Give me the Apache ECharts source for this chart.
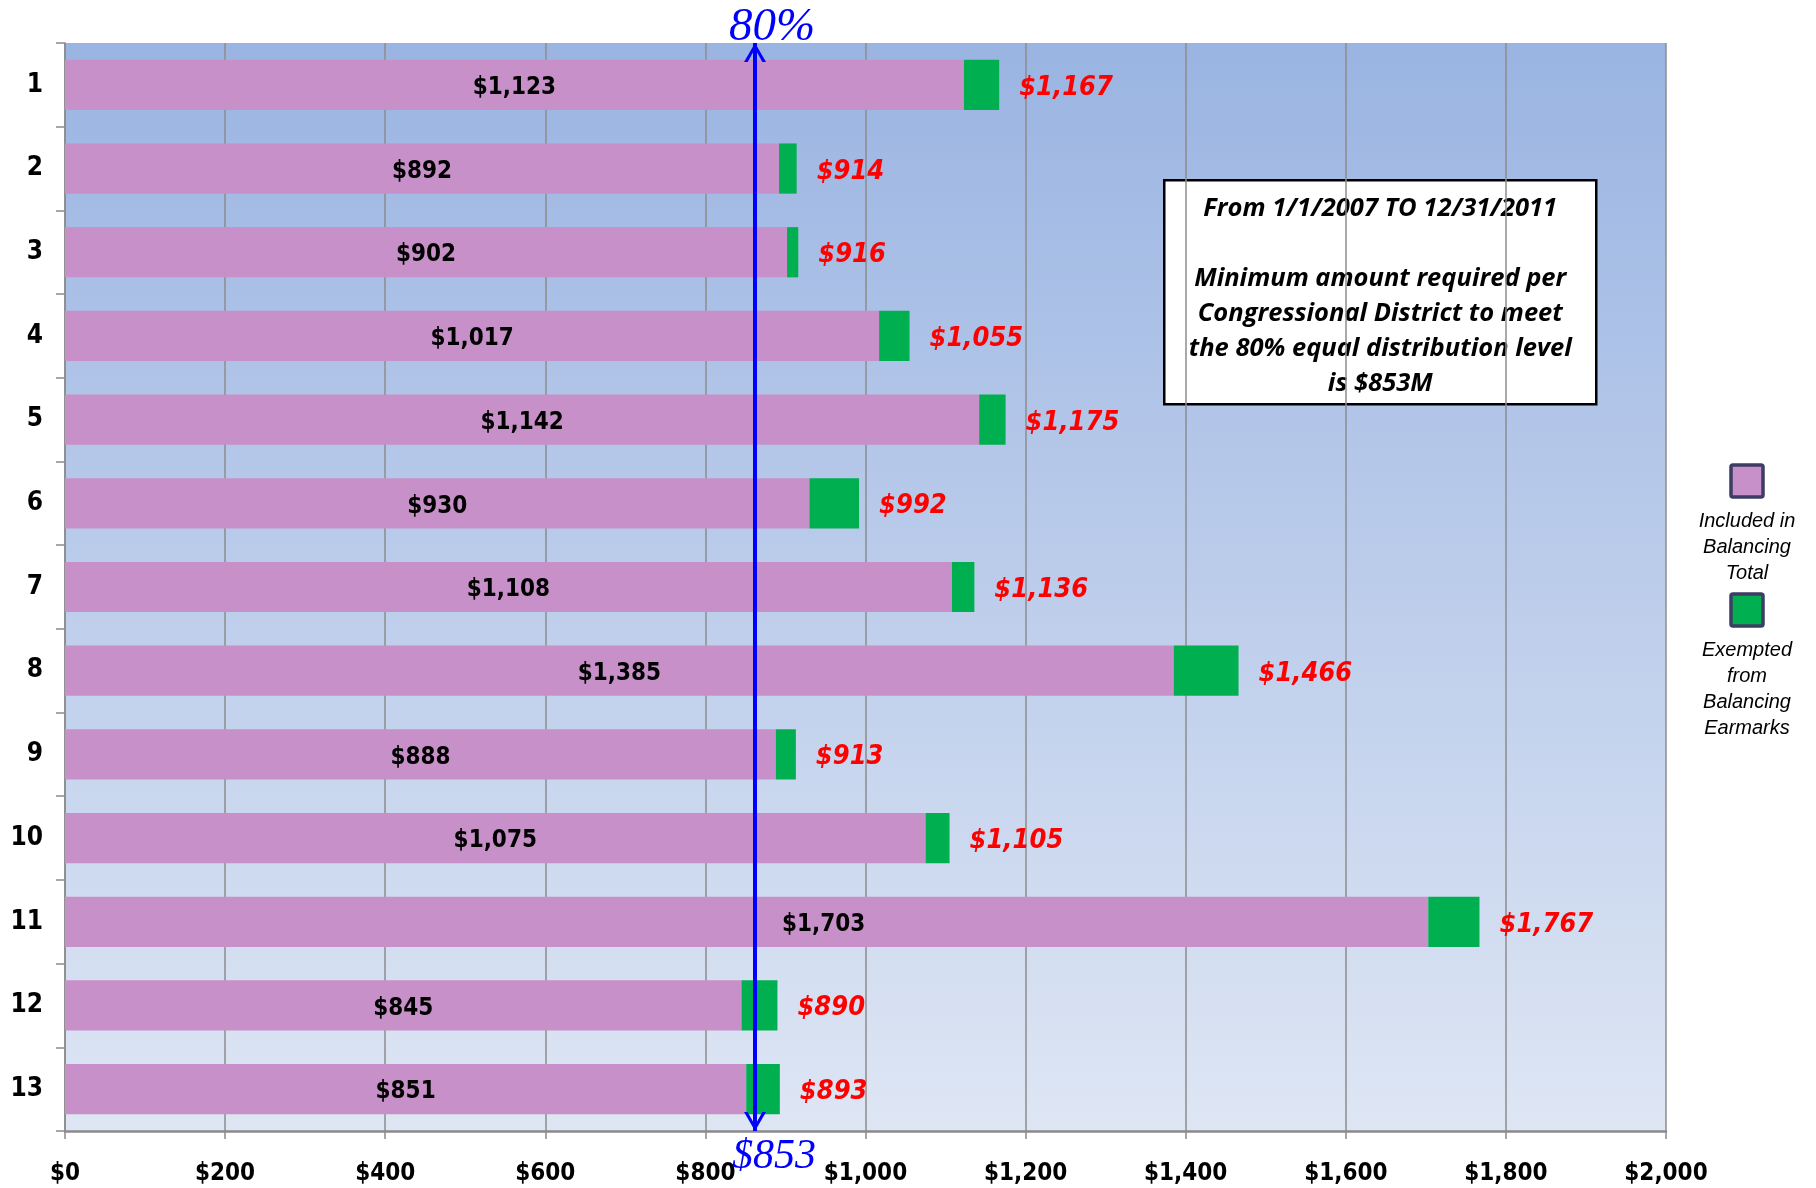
<!DOCTYPE html>
<html>
<head>
<meta charset="utf-8">
<script src="https://cdn.jsdelivr.net/npm/echarts@6/dist/echarts.min.js"></script>
<style>
	html, body { margin: 0; padding: 0; background: #fff; }
	#chart { width: 1816px; height: 1188px; }
</style>
</head>
<body>
<div id="chart"></div>
<script>
	// districts, top to bottom
	var districts = ['1', '2', '3', '4', '5', '6', '7', '8', '9', '10', '11', '12', '13'];
	// included in balancing total ($M)
	var included = [1123, 892, 902, 1017, 1142, 930, 1108, 1385, 888, 1075, 1703, 845, 851];
	// exempted from balancing earmarks ($M)
	var exempted = [44, 22, 14, 38, 33, 62, 28, 81, 25, 30, 64, 45, 42];
	// totals printed at the end of each bar
	var totals = [1167, 914, 916, 1055, 1175, 992, 1136, 1466, 913, 1105, 1767, 890, 893];
	// x axis ticks
	var xMin = 0, xMax = 2000, xStep = 200;
	// 80% level
	var levelLabel = '$853';
	var levelPos = 862;

	var narrow = '"Liberation Sans Narrow", "Arial Narrow", "DejaVu Sans Condensed", sans-serif';
	var money = function (v) { return '$' + Number(v).toLocaleString('en-US'); };
	// open arrow head, tip sits at the symbol centre (speck above widens the box)
	var chevron = 'path://M5.95,-12 L6.05,-12 L6,-11.95 Z M0,12 L6,0 L12,12 L10,12 L6,3.6 L2,12 Z';

	var myChart = echarts.init(document.getElementById('chart'));

	var includedData = included.map(function (v, i) {
		// district 11 label sits further right in the original
		if (i === 10) return { value: v, label: { offset: [77, 3] } };
		return v;
	});

	var option = {
		animation: false,
		grid: {
			left: 65, right: 150, top: 43, bottom: 57,
			show: true,
			borderWidth: 0,
			backgroundColor: {
				type: 'linear', x: 0, y: 0, x2: 0, y2: 1,
				colorStops: [
					{ offset: 0, color: '#9AB4E2' },
					{ offset: 1, color: '#DEE6F4' }
				]
			}
		},
		xAxis: {
			type: 'value',
			min: xMin, max: xMax, interval: xStep,
			axisLine: { show: true, lineStyle: { color: '#8A8A8A', width: 2.5 } },
			axisTick: { show: true, length: 8, lineStyle: { color: '#8A8A8A', width: 1.5 } },
			splitLine: { show: true, lineStyle: { color: '#8C8C8C', width: 1.5 } },
			axisLabel: {
				formatter: money,
				color: '#000', fontFamily: narrow, fontWeight: 'bold', fontSize: 24,
				margin: 31
			}
		},
		yAxis: {
			type: 'category',
			inverse: true,
			data: districts,
			axisLine: { show: true, lineStyle: { color: '#8A8A8A', width: 1.5 } },
			axisTick: { show: true, length: 9, lineStyle: { color: '#8A8A8A', width: 1.5 } },
			axisLabel: {
				color: '#000', fontFamily: narrow, fontWeight: 'bold', fontSize: 26,
				margin: 22, padding: [5, 0, 0, 0]
			}
		},
		series: [
			{
				name: 'Included in Balancing Total',
				type: 'bar',
				stack: 'total',
				barCategoryGap: '40%',
				itemStyle: { color: '#C890C8' },
				label: {
					show: true, position: 'inside',
					formatter: function (p) { return money(p.value); },
					color: '#000', fontFamily: narrow, fontWeight: 'bold', fontSize: 24,
					offset: [0, 3]
				},
				data: includedData,
				markLine: {
					silent: true,
					symbol: [chevron, chevron],
					symbolSize: [22, 38],
					lineStyle: { color: '#0000FF', width: 4, type: 'solid' },
					data: [
						{
							xAxis: levelPos,
							label: {
								show: true, position: 'start', formatter: '80%',
								color: '#0000FF', fontFamily: '"Liberation Serif", serif',
								fontStyle: 'italic', fontSize: 47, distance: 0, offset: [17, 8]
							}
						},
						{
							xAxis: levelPos,
							lineStyle: { color: 'rgba(0,0,0,0)' },
							label: {
								show: true, position: 'end', formatter: levelLabel,
								color: '#0000FF', fontFamily: '"Liberation Serif", serif',
								fontStyle: 'italic', fontSize: 42, distance: 0, offset: [19, 5]
							}
						}
					]
				}
			},
			{
				name: 'Exempted from Balancing Earmarks',
				type: 'bar',
				stack: 'total',
				itemStyle: { color: '#00B050' },
				label: {
					show: true, position: 'right', distance: 20,
					formatter: function (p) { return money(totals[p.dataIndex]); },
					color: '#FF0000', fontFamily: narrow, fontWeight: 'bold',
					fontStyle: 'italic', fontSize: 27, offset: [0, 3]
				},
				data: exempted
			}
		],
		graphic: [
			{
				type: 'group', left: 1163, top: 179,
				children: [
					{
						type: 'rect',
						shape: { x: 0, y: 0, width: 432, height: 224 },
						style: { fill: '#fff', stroke: '#000', lineWidth: 2.5 }
					},
					{
						type: 'text', x: 216, y: 11,
						style: {
							text: 'From 1/1/2007 TO 12/31/2011\n\nMinimum amount required per\nCongressional District to meet\nthe 80% equal distribution level\nis $853M',
							fill: '#000', align: 'center', verticalAlign: 'top',
							font: 'italic bold 25.5px "Open Sans", Lato, sans-serif',
							lineHeight: 35
						}
					}
				]
			},
			{
				type: 'rect', x: 1731, y: 465,
				shape: { width: 32, height: 32, r: 2 },
				style: { fill: '#C890C8', stroke: '#3C3C64', lineWidth: 3.5 }
			},
			{
				type: 'text', x: 1747, y: 508,
				style: {
					text: 'Included in\nBalancing\nTotal', fill: '#000',
					align: 'center', verticalAlign: 'top',
					font: 'italic 20px "Liberation Sans", Arial, sans-serif', lineHeight: 26
				}
			},
			{
				type: 'rect', x: 1731, y: 594,
				shape: { width: 32, height: 32, r: 2 },
				style: { fill: '#00B050', stroke: '#3C3C64', lineWidth: 3.5 }
			},
			{
				type: 'text', x: 1747, y: 637,
				style: {
					text: 'Exempted\nfrom\nBalancing\nEarmarks', fill: '#000',
					align: 'center', verticalAlign: 'top',
					font: 'italic 20px "Liberation Sans", Arial, sans-serif', lineHeight: 26
				}
			}
		]
	};
	myChart.setOption(option);
</script>
</body>
</html>
